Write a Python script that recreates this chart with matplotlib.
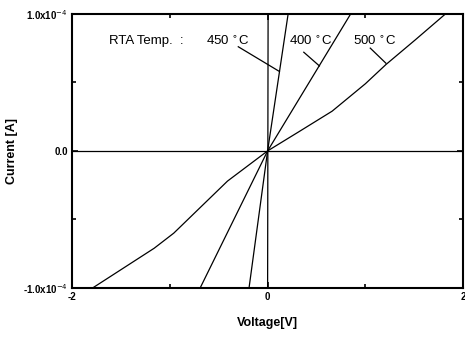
import matplotlib
matplotlib.use("Agg")
import matplotlib.pyplot as plt
from matplotlib.ticker import FixedLocator

plt.rcParams['font.family'] = ['Liberation Sans', 'DejaVu Sans']

# I-V curves (current in units of 1e-4 A)
v_500 = [-1.79, -1.16, -0.96, -0.41, 0.0, 0.32, 0.66, 1.0, 1.21, 1.51, 1.82]
i_500 = [-1.0, -0.71, -0.60, -0.22, 0.0, 0.14, 0.29, 0.49, 0.63, 0.81, 1.0]
v_400 = [-0.69, 0.0, 0.85]
i_400 = [-1.0, 0.0, 1.0]
v_450 = [-0.19, 0.0, 0.21]
i_450 = [-1.0, 0.0, 1.0]
v_vert = [0.0, 0.005]
i_vert = [-1.0, 1.0]

xticks = [-2, 0, 2]
xtick_labels = ['-2', '0', '2']
yticks = [-1e-4, 0.0, 1e-4]
ytick_labels = [r'-1.0x10$^{-4}$', '0.0', r'1.0x10$^{-4}$']

fig = plt.figure(figsize=(4.65, 3.38), dpi=100)
ax = fig.add_axes([0.155, 0.148, 0.841, 0.811])

scale = 1e-4
for v, i in [(v_500, i_500), (v_400, i_400), (v_450, i_450), (v_vert, i_vert)]:
    ax.plot(v, [k * scale for k in i], color='black', lw=0.9)
ax.axhline(0, color='black', lw=0.9)

ax.set_xlim(-2, 2)
ax.set_ylim(-1e-4, 1e-4)
ax.set_xticks(xticks)
ax.set_xticklabels(xtick_labels, fontsize=7, fontweight='bold')
ax.set_yticks(yticks)
ax.set_yticklabels(ytick_labels, fontsize=7, fontweight='bold')
ax.xaxis.set_minor_locator(FixedLocator([-1, 1]))
ax.yaxis.set_minor_locator(FixedLocator([-0.5e-4, 0.5e-4]))
ax.tick_params(which='both', direction='in', top=True, right=True, width=1.2)
ax.tick_params(which='major', length=4, pad=3)
ax.tick_params(which='minor', length=3)
for s in ax.spines.values():
    s.set_linewidth(1.5)

ax.set_xlabel('Voltage[V]', fontsize=9, fontweight='bold', labelpad=11)
ax.set_ylabel('Current [A]', fontsize=9, fontweight='bold')
ax.yaxis.set_label_coords(-0.138, 0.5)

# labels and leader lines
ax.text(-1.62, 0.80e-4, 'RTA Temp.  :', fontsize=9.5, ha='left', va='center')
ax.text(-0.63, 0.80e-4, r'450 $^{\circ}$C', fontsize=9.5, ha='left', va='center')
ax.text(0.22, 0.80e-4, r'400 $^{\circ}$C', fontsize=9.5, ha='left', va='center')
ax.text(0.87, 0.80e-4, r'500 $^{\circ}$C', fontsize=9.5, ha='left', va='center')
ax.plot([-0.30, 0.12], [0.76e-4, 0.58e-4], color='black', lw=0.9)
ax.plot([0.37, 0.53], [0.72e-4, 0.62e-4], color='black', lw=0.9)
ax.plot([1.05, 1.21], [0.75e-4, 0.64e-4], color='black', lw=0.9)

fig.savefig('out.png', dpi=100)
